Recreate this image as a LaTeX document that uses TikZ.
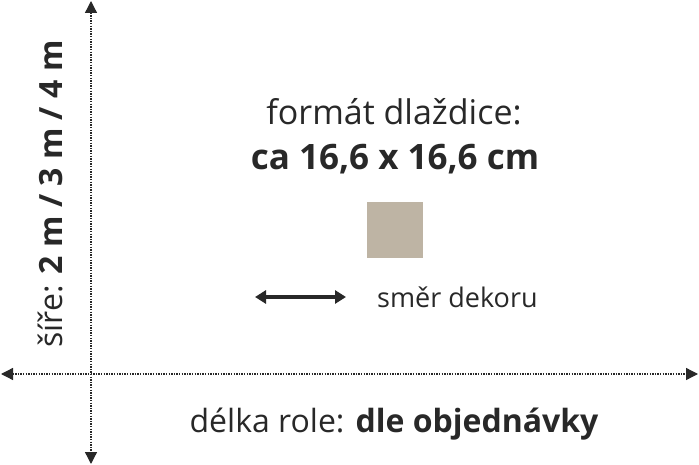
\documentclass[tikz,border=0pt]{standalone}
\usepackage{fontspec}
\setmainfont{Open Sans}
\usetikzlibrary{arrows.meta}
\definecolor{ink}{RGB}{40,40,40}
\definecolor{tile}{RGB}{190,180,164}
\tikzset{
  axis/.style={ink,line width=1.3pt,dash pattern=on 1.3pt off 1.3pt,
    {Triangle[length=12pt,width=12pt]}-{Triangle[length=12pt,width=12pt]}},
  label/.style={ink,inner sep=0pt,font=\fontsize{32}{38}\selectfont},
}
\begin{document}
\begin{tikzpicture}[x=1pt,y=-1pt]
\useasboundingbox (0,0) rectangle (699,465);

% axes
\coordinate (vtop) at (91,1);
\coordinate (vbot) at (91,464);
\coordinate (hleft) at (1,374);
\coordinate (hright) at (698,374);
\draw[axis] (vtop)--(vbot);
\draw[axis] (hleft)--(hright);

\node[label,anchor=base,rotate=90] (width) at (62,194) {šíře: \textbf{2 m / 3 m / 4 m}};
\node[label,anchor=base] (length) at (394,432) {délka role: \textbf{dle objednávky}};

% tile
\node[label,anchor=base,font=\fontsize{34}{40}\selectfont] (format) at (394,125) {formát dlaždice:};
\node[label,anchor=base,font=\fontsize{35}{40}\selectfont] (size) at (395,170) {\textbf{ca 16,6 x 16,6 cm}};
\node[fill=tile,minimum size=56pt,inner sep=0pt] (sample) at (395,230.5) {};

% decor direction
\coordinate (dleft) at (255,297);
\coordinate (dright) at (346,297);
\draw[ink,line width=3.4pt,{Triangle[length=11pt,width=13pt]}-{Triangle[length=11pt,width=13pt]}] (dleft)--(dright);
\node[label,anchor=base west,font=\fontsize{27}{32}\selectfont] (decor) at (377,307) {směr dekoru};
\end{tikzpicture}
\end{document}
